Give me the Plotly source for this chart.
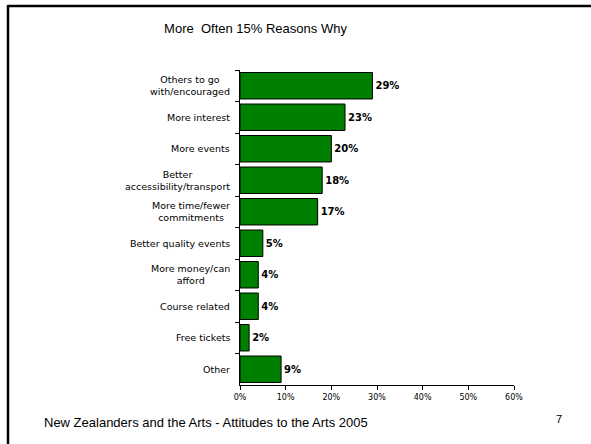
import plotly.graph_objects as go

categories = [
    "Others to go<br>with/encouraged",
    "More interest",
    "More events",
    "Better<br>accessibility/transport",
    "More time/fewer<br>commitments",
    "Better quality events",
    "More money/can<br>afford",
    "Course related",
    "Free tickets",
    "Other",
]
values = [29, 23, 20, 18, 17, 5, 4, 4, 2, 9]
x_ticks = [0, 10, 20, 30, 40, 50, 60]
x_tick_labels = ["0%", "10%", "20%", "30%", "40%", "50%", "60%"]

W, H = 591, 444
L, R, T, B = 240, 77, 70, 59
PW = W - L - R
PH = H - T - B

def px_x(p):
    return (p - L) / PW

def px_y(p):
    return (H - B - p) / PH

fig = go.Figure()
fig.add_trace(go.Bar(
    y=categories,
    x=values,
    orientation="h",
    marker=dict(color="#008000", line=dict(color="black", width=1)),
    text=[f"{v}%" for v in values],
    textposition="outside",
    textfont=dict(family="DejaVu Sans", size=10, color="black", weight="bold"),
    cliponaxis=False,
    width=0.84,
    hoverinfo="skip",
))

annotations = []
for c in categories:
    annotations.append(dict(
        x=px_x(232), xref="paper", y=c, yref="y",
        text=c, showarrow=False, xanchor="right", yanchor="middle", align="center",
        font=dict(family="DejaVu Sans", size=9.5, color="black"),
    ))
annotations.append(dict(
    x=px_x(42), xref="paper", y=px_y(422), yref="paper",
    text="New Zealanders and the Arts - Attitudes to the Arts 2005",
    showarrow=False, xanchor="left", yanchor="middle",
    font=dict(family="Liberation Sans", size=13, color="black"),
))
annotations.append(dict(
    x=px_x(559), xref="paper", y=px_y(419), yref="paper",
    text="7", showarrow=False, xanchor="center", yanchor="middle",
    font=dict(family="Liberation Sans", size=11, color="black"),
))

shapes = [
    dict(type="line", xref="paper", yref="paper",
         x0=px_x(8), x1=px_x(600), y0=px_y(6), y1=px_y(6),
         line=dict(color="black", width=2.5)),
    dict(type="line", xref="paper", yref="paper",
         x0=px_x(8), x1=px_x(8), y0=px_y(5), y1=px_y(450),
         line=dict(color="black", width=2.5)),
]

fig.update_layout(
    width=W, height=H,
    margin=dict(l=L, r=R, t=T, b=B),
    paper_bgcolor="white", plot_bgcolor="white",
    showlegend=False,
    title=dict(text="More\u00a0 Often 15% Reasons Why", x=255.5 / W, xanchor="center",
               y=1 - 28 / H, yanchor="middle",
               font=dict(family="Liberation Sans", size=13, color="black")),
    annotations=annotations,
    shapes=shapes,
    xaxis=dict(range=[0, 60], tickvals=x_ticks, ticktext=x_tick_labels,
               showgrid=False, zeroline=False, showline=True, linecolor="black", linewidth=1,
               ticks="outside", ticklen=4, tickcolor="black",
               tickfont=dict(family="DejaVu Sans", size=8, color="black"), fixedrange=True),
    yaxis=dict(autorange="reversed", showticklabels=False, showgrid=False, zeroline=False,
               showline=True, linecolor="black", linewidth=1,
               ticks="outside", ticklen=4, tickcolor="black", tickson="boundaries",
               fixedrange=True),
)

fig.write_html("out.html")
